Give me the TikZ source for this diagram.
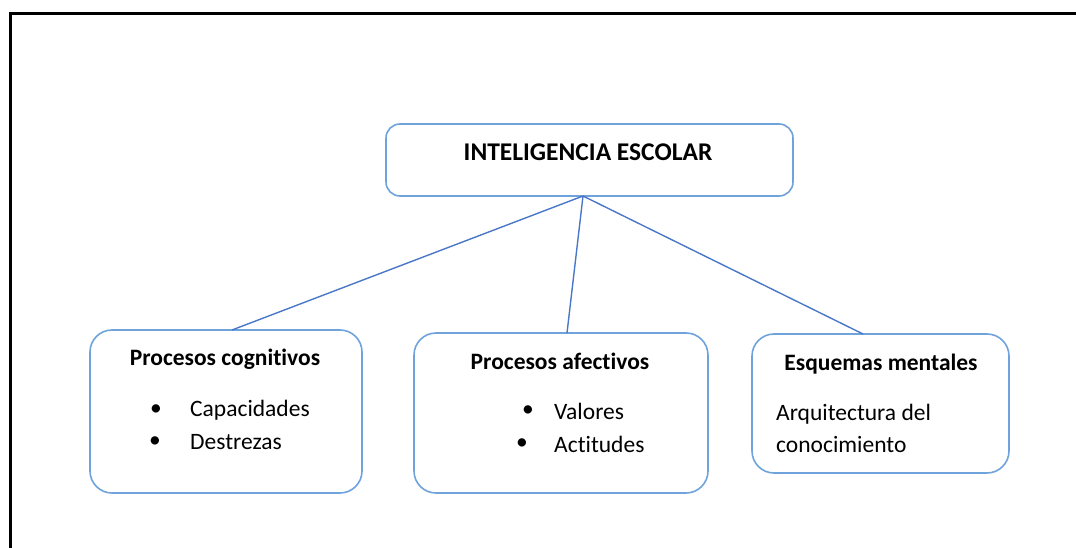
\documentclass[tikz,border=0pt]{standalone}
\usepackage{fontspec}
\setmainfont[Ligatures=NoCommon]{Carlito}
\definecolor{boxblue}{HTML}{6FA3DC}
\definecolor{lineblue}{HTML}{4A78C8}
\begin{document}
\begin{tikzpicture}[x=1pt,y=-1pt,
  box/.style={draw=boxblue,line width=1.6pt,rounded corners=14pt,fill=white},
  bigbox/.style={box,rounded corners=22pt},
  conn/.style={draw=lineblue,line width=1.4pt},
  frame/.style={draw=black,line width=3pt},
  lbl/.style={inner sep=0pt,font=\fontsize{23.5}{28}\selectfont},
  blbl/.style={inner sep=0pt,font=\fontsize{23.5}{28}\selectfont\bfseries},
  tlbl/.style={inner sep=0pt,font=\fontsize{25.5}{30}\selectfont\bfseries},
  bul/.style={inner sep=0pt,font=\fontsize{23.5}{28}\selectfont}]
\clip (0,0) rectangle (1076,548);
\fill[white] (0,0) rectangle (1076,548);
\draw[frame] (10,600) -- (10,14) -- (1100,14);
% boxes
\draw[box] (386,124) rectangle (793,196);
\draw[bigbox] (90,330) rectangle (362,493);
\draw[bigbox] (414,333) rectangle (708,493);
\draw[bigbox] (752,334) rectangle (1009,473);
\coordinate (top) at (583,196);
\coordinate (c1) at (232,330);
\coordinate (c2) at (567,333);
\coordinate (c3) at (863,334);
\draw[conn] (top) -- (c1);
\draw[conn] (top) -- (c2);
\draw[conn] (top) -- (c3);
% texts
\node[tlbl] (t0) at (588,152) {INTELIGENCIA ESCOLAR};
\node[blbl] (t1) at (225,359) {Procesos cognitivos};
\node[bul] (b11) at (156,410) {•};
\node[lbl,anchor=west] (i11) at (190,410) {Capacidades};
\node[bul] (b12) at (155,442) {•};
\node[lbl,anchor=west] (i12) at (190,442) {Destrezas};
\node[blbl] (t2) at (560,361) {Procesos afectivos};
\node[bul] (b21) at (528,411) {•};
\node[lbl,anchor=west] (i21) at (554,411) {Valores};
\node[bul] (b22) at (522,444) {•};
\node[lbl,anchor=west] (i22) at (554,444) {Actitudes};
\node[blbl] (t3) at (881,364) {Esquemas mentales};
\node[lbl,anchor=west] (i31) at (776,414) {Arquitectura del};
\node[lbl,anchor=west] (i32) at (776,444) {conocimiento};
\end{tikzpicture}
\end{document}
